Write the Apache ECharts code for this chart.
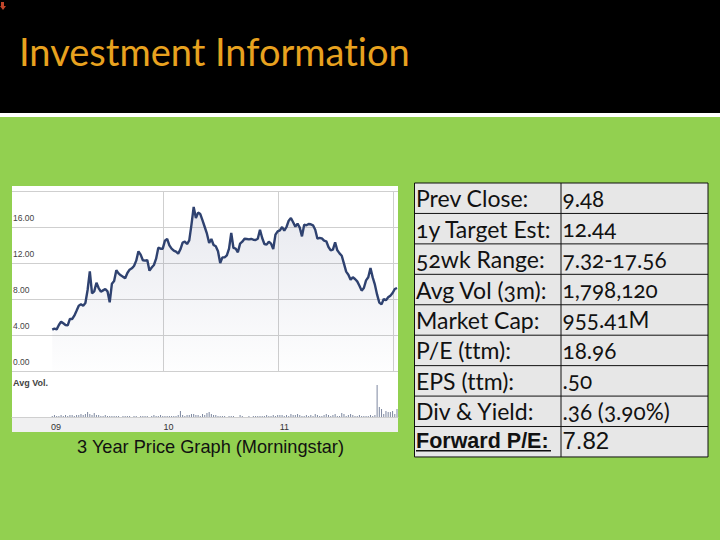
<!DOCTYPE html>
<html lang="en">
<head>
<meta charset="UTF-8">
<title>Investment Information</title>
<script src="https://cdn.jsdelivr.net/npm/echarts@6/dist/echarts.min.js"></script>
<style>
    html, body { margin: 0; padding: 0; background: #92d050; }
    #main { width: 720px; height: 540px; }
    /* zrender writes a font shorthand on every text, so this one has to be important */
    #main text { font-feature-settings: "onum" 1, "liga" 0 !important; }
</style>
</head>
<body>
<div id="main"></div>
<script type="text/javascript">
// weekly closing price, first week is early 2009
const firstWeek = 2009.033
const weekStep = 0.01922
const prices = [
    4.59, 4.7, 4.63, 5.11, 5.48, 5.3, 5.11, 5.07, 5.78, 5.78, 6.15, 6.7, 7.26, 7.41, 7.26, 7.56,
    9.0, 11.07, 8.63, 8.85, 9.81, 9.22, 8.81, 8.96, 9.11, 8.85, 7.63, 9.7, 10.0, 11.19, 10.85, 10.63,
    10.48, 10.3, 10.89, 11.26, 11.41, 11.67, 12.26, 13.3, 12.93, 12.3, 12.26, 12.33, 11.15, 11.5, 11.78, 12.48,
    13.7, 13.59, 13.59, 14.48, 14.67, 13.96, 13.59, 13.37, 13.26, 13.04, 13.52, 14.26, 14.37, 14.11, 14.52, 16.26,
    18.22, 17.0, 17.6, 17.44, 16.74, 16.0, 15.26, 14.22, 14.67, 14.0, 13.85, 13.3, 12.0, 12.63, 12.63, 12.85,
    13.59, 15.33, 13.67, 13.59, 13.19, 14.15, 14.37, 14.7, 14.67, 14.63, 14.67, 14.59, 14.56, 14.7, 15.7, 14.78,
    14.11, 14.04, 14.37, 14.15, 13.56, 15.15, 15.52, 15.63, 16.0, 15.59, 16.0, 16.7, 17.0, 16.52, 16.04, 16.37,
    15.93, 14.96, 16.26, 16.19, 16.33, 16.3, 16.19, 15.7, 14.7, 14.78, 14.74, 14.48, 14.41, 13.78, 13.41, 13.48,
    14.3, 13.41, 13.07, 12.81, 11.93, 11.04, 10.7, 10.15, 10.41, 10.22, 9.96, 9.48, 8.93, 9.22, 10.07, 10.41,
    11.44, 10.4, 9.59, 8.48, 7.6, 7.4, 8.0, 7.85, 8.19, 8.37, 8.67, 9.11, 9.22
]
const volumes = [
    1, 2, 1, 1, 2, 1, 2, 1, 2, 2, 1, 2, 2, 3, 2, 3, 5, 3, 2, 4, 2,
    2, 1, 1, 2, 1, 1, 1, 1, 1, 1, 0, 1, 1, 1, 1, 0, 1, 1, 0, 1,
    1, 1, 1, 0, 1, 2, 1, 1, 2, 1, 1, 1, 1, 1, 1, 1, 2, 6,
    2, 1, 2, 2, 3, 3, 2, 2, 1, 3, 2, 4, 5, 3, 2,
    2, 1, 1, 1, 1, 0, 1, 1, 1, 0, 0, 2, 1, 0, 0, 1, 0, 1, 1, 1, 1, 1, 1, 2, 1, 1, 2, 1, 2, 2,
    2, 1, 2, 1, 3, 2, 2, 3, 2, 1, 1, 2, 1, 2, 1, 3, 2, 1, 1, 2, 3, 2, 1, 2, 3, 1, 1, 4, 3, 1, 2, 3, 2, 1, 1, 2, 1, 1, 1, 1, 2, 1, 2,
    32, 10, 8, 3, 6, 5, 5, 6, 3, 8
]
const yearLines = [2010, 2011, 2012]
const yearLabels = [2009.065, 2010.043, 2011.052]
const priceTicks = [0, 4, 8, 12, 16, 20]

const titleText = 'Investment Information'
const captionText = '3 Year Price Graph (Morningstar)'
const tableLabels = ['Prev Close:', '1y Target Est:', '52wk Range:', 'Avg Vol (3m):', 'Market Cap:', 'P/E (ttm):', 'EPS (ttm):', 'Div & Yield:', 'Forward P/E:']
const tableValues = ['9.48', '12.44', '7.32-17.56', '1,798,120', '955.41M', '18.96', '.50', '.36 (3.90%)', '7.82']

const bodyFont = 'Lato'
const tableLeft = 414.5, tableMid = 561, tableRight = 708, tableTop = 183, rowH = 30.44

let myChart = echarts.init(document.getElementById('main'), null, { renderer: 'svg' })

// slide background, picture panel and the table are plain graphic elements
const graphic = [
    { type: 'rect', z: -10, shape: { x: 0, y: 0, width: 720, height: 113 }, style: { fill: '#000' } },
    { type: 'rect', z: -10, shape: { x: 0, y: 113, width: 720, height: 4 }, style: { fill: '#fff' } },
    { type: 'rect', z: -10, shape: { x: 0, y: 117, width: 720, height: 423 }, style: { fill: '#92d050' } },
    { type: 'polygon', z: -9, shape: { points: [[1, 2], [4, 2], [4, 6], [6, 6], [3, 10], [0, 6], [1, 6]] }, style: { fill: '#c0452a' } },
    { type: 'text', x: 19, y: 51, style: { text: titleText, font: '38px ' + bodyFont, fill: '#e8a21f', textVerticalAlign: 'middle' } },
    { type: 'rect', z: -9, shape: { x: 12, y: 186, width: 386, height: 246 }, style: { fill: '#fff' } },
    { type: 'rect', z: -9, shape: { x: 12, y: 417, width: 386, height: 15 }, style: { fill: '#f0f0f1' } },
    { type: 'text', x: 13, y: 383, style: { text: 'Avg Vol.', font: 'bold 9px "Liberation Sans"', fill: '#444', textVerticalAlign: 'middle' } },
    { type: 'text', x: 210.5, y: 447, style: { text: captionText, font: '18.2px "Liberation Sans"', fill: '#111', textAlign: 'center', textVerticalAlign: 'middle' } },
    { type: 'rect', z: -9, shape: { x: tableLeft, y: tableTop, width: tableRight - tableLeft, height: rowH * tableLabels.length }, style: { fill: '#e7e7e7', stroke: '#111', lineWidth: 1 } },
    { type: 'line', z: -8, shape: { x1: tableMid, y1: tableTop, x2: tableMid, y2: tableTop + rowH * tableLabels.length }, style: { stroke: '#111', lineWidth: 1 } }
]
tableLabels.forEach((label, i) => {
    const midY = tableTop + rowH * (i + 0.5)
    const last = i === tableLabels.length - 1
    if (i > 0) {
        graphic.push({ type: 'line', z: -8, shape: { x1: tableLeft, y1: tableTop + rowH * i, x2: tableRight, y2: tableTop + rowH * i }, style: { stroke: '#111', lineWidth: 1 } })
    }
    graphic.push({ type: 'text', x: 416, y: midY - (last ? 1 : 0), style: { text: label, font: last ? 'bold 21.5px "Liberation Sans"' : '23px ' + bodyFont, fill: '#111', textVerticalAlign: 'middle' } })
    graphic.push({ type: 'text', x: 562.5, y: midY - (last ? 1 : 0), style: { text: tableValues[i], font: last ? '24px "Liberation Sans"' : '22.5px ' + bodyFont, fill: '#111', textVerticalAlign: 'middle' } })
    if (last) {
        graphic.push({ type: 'line', shape: { x1: 416, y1: midY + 9, x2: 551, y2: midY + 9 }, style: { stroke: '#111', lineWidth: 1.5 } })
    }
})

let options = {
    animation: false,
    backgroundColor: 'transparent',
    graphic: graphic,
    grid: [
        { left: 12, right: 322, top: 191, bottom: 169 },
        { left: 12, right: 322, top: 371, bottom: 123 }
    ],
    xAxis: [
        {
            gridIndex: 0, type: 'value', min: 2008.683, max: 2012.04,
            axisLine: { show: false }, axisLabel: { show: false },
            axisTick: { show: false, customValues: yearLines },
            splitLine: { show: true, lineStyle: { color: '#cfcfcf', width: 1 } }
        },
        {
            gridIndex: 1, type: 'value', min: 2008.683, max: 2012.04,
            axisLine: { show: true, onZero: false, lineStyle: { color: '#cfcfcf' } },
            axisTick: { show: false, customValues: yearLabels },
            splitLine: { show: false },
            axisLabel: {
                customValues: yearLabels, margin: 5,
                color: '#333', fontFamily: 'Liberation Sans', fontSize: 9,
                formatter: v => String(Math.floor(v)).slice(2)
            }
        }
    ],
    yAxis: [
        {
            gridIndex: 0, type: 'value', min: 0, max: 20, interval: 4,
            axisLine: { show: false }, axisTick: { show: false },
            splitLine: { lineStyle: { color: '#cfcfcf', width: 1 } },
            axisLabel: {
                inside: true, margin: 1, verticalAlign: 'bottom', padding: [0, 0, 5, 0],
                color: '#444', fontFamily: 'Liberation Sans', fontSize: 8.5,
                formatter: v => priceTicks.indexOf(v) >= 0 && v < 20 ? v.toFixed(2) : ''
            }
        },
        {
            gridIndex: 1, type: 'value', min: 0, max: 46,
            axisLine: { show: false }, axisTick: { show: false }, axisLabel: { show: false }, splitLine: { show: false }
        }
    ],
    series: [
        {
            type: 'line', xAxisIndex: 0, yAxisIndex: 0,
            data: prices.map((p, i) => [firstWeek + i * weekStep, p]),
            showSymbol: false, smooth: false,
            lineStyle: { color: '#2f4270', width: 2.4 },
            areaStyle: {
                color: new echarts.graphic.LinearGradient(0, 0, 0, 1, [
                    { offset: 0, color: 'rgba(60,70,120,0.17)' },
                    { offset: 1, color: 'rgba(60,70,120,0.01)' }
                ])
            }
        },
        {
            type: 'bar', xAxisIndex: 1, yAxisIndex: 1, barWidth: 1,
            data: volumes.map((v, i) => [firstWeek + i * weekStep, v]),
            itemStyle: { color: '#7d88a0' }
        }
    ]
}

myChart.setOption(options)
</script>
</body>
</html>
